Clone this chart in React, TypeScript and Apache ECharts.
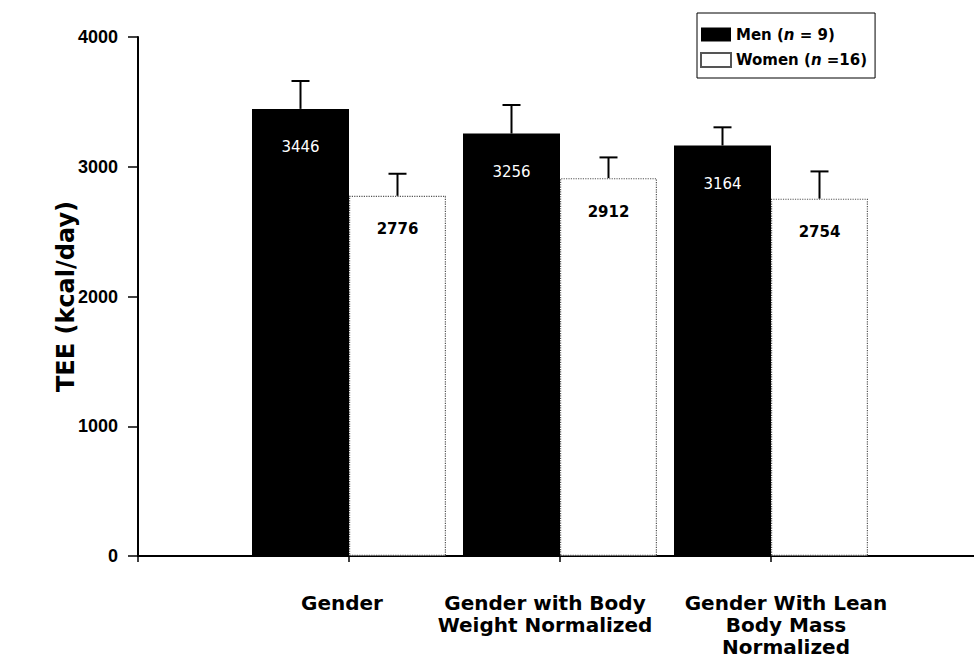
import React, { useEffect, useRef } from "react";
import * as echarts from "echarts";

const categories = [
  "",
  "Gender",
  "Gender with Body\nWeight Normalized",
  "Gender With Lean\nBody Mass\nNormalized",
  "",
];
const menValues = [3446, 3256, 3164];
const womenValues = [2776, 2912, 2754];
const menSE = [215, 220, 140];
const womenSE = [170, 160, 210];
const yTicks = [0, 1000, 2000, 3000, 4000];

const FONT = "DejaVu Sans";
const FONT2 = "Liberation Sans";
const BAR_W = 97;

export default function App() {
  const ref = useRef<HTMLDivElement>(null);
  useEffect(() => {
    if (!ref.current) return;
    const chart = echarts.init(ref.current, undefined, { renderer: "svg" });
    const pad = (arr: number[]) => [null, ...arr, null];
    const errData = (vals: number[], se: number[]) =>
      vals.map((v, i) => [i + 1, v, se[i]]);
    const makeErr = (offset: number) => (params: any, api: any) => {
      const x = api.value(0);
      const y = api.value(1);
      const se = api.value(2);
      const base = api.coord([x, y]);
      const top = api.coord([x, y + se]);
      const px = base[0] + offset;
      return {
        type: "group",
        children: [
          {
            type: "line",
            shape: { x1: px, y1: base[1], x2: px, y2: top[1] },
            style: { stroke: "#000", lineWidth: 2 },
          },
          {
            type: "line",
            shape: { x1: px - 9, y1: top[1], x2: px + 9, y2: top[1] },
            style: { stroke: "#000", lineWidth: 2 },
          },
        ],
      };
    };
    const catData = categories.map((c, i) => {
      const shifts: Record<number, number[]> = {
        1: [0, 14, 0, 0],
        2: [0, 30, 0, 0],
        3: [0, 0, 0, 30],
      };
      return shifts[i] ? { value: c, textStyle: { padding: shifts[i] } } : c;
    });
    chart.setOption({
      animation: false,
      backgroundColor: "#fff",
      grid: {
        left: 138,
        top: 37,
        width: 844,
        height: 519,
        outerBoundsMode: "none",
      },
      legend: {
        left: 697,
        top: 13,
        orient: "vertical",
        borderColor: "#000",
        borderWidth: 1,
        borderRadius: 0,
        padding: [14, 8, 10, 3],
        itemGap: 10,
        itemWidth: 30,
        itemHeight: 14,
        icon: "rect",
        data: ["Men", "Women"],
        formatter: (name: string) =>
          name === "Men" ? "Men ({i|n} = 9)" : "Women ({i|n} =16)",
        textStyle: {
          fontFamily: FONT,
          fontWeight: "bold",
          fontSize: 15,
          color: "#000",
          rich: {
            i: {
              fontFamily: FONT,
              fontWeight: "bold",
              fontStyle: "italic",
              fontSize: 15,
              color: "#000",
            },
          },
        },
      },
      xAxis: {
        type: "category",
        data: catData,
        boundaryGap: false,
        axisLine: { show: true, lineStyle: { color: "#000", width: 2 } },
        axisTick: {
          show: true,
          length: 6,
          lineStyle: { color: "#000", width: 1.5 },
        },
        axisLabel: {
          interval: 0,
          margin: 36,
          fontFamily: FONT,
          fontWeight: "bold",
          fontSize: 20,
          lineHeight: 22,
          color: "#000",
          verticalAlign: "top",
        },
        splitLine: { show: false },
      },
      yAxis: {
        type: "value",
        min: yTicks[0],
        max: yTicks[yTicks.length - 1],
        interval: 1000,
        name: "TEE (kcal/day)",
        nameLocation: "middle",
        nameGap: 60,
        nameMoveOverlap: false,
        nameTextStyle: {
          fontFamily: FONT,
          fontWeight: "bold",
          fontSize: 24,
          color: "#000",
        },
        axisLine: { show: true, lineStyle: { color: "#000", width: 2 } },
        axisTick: {
          show: true,
          length: 10,
          lineStyle: { color: "#000", width: 1.5 },
        },
        axisLabel: {
          margin: 20,
          fontFamily: FONT2,
          fontWeight: "bold",
          fontSize: 18,
          color: "#000",
          formatter: (v: number) => String(v),
        },
        splitLine: { show: false },
      },
      series: [
        {
          name: "Men",
          type: "bar",
          data: pad(menValues),
          barWidth: BAR_W,
          barGap: "0%",
          itemStyle: { color: "#000", borderColor: "#000", borderWidth: 0 },
          label: {
            show: true,
            position: "insideTop",
            distance: 31,
            color: "#fff",
            fontFamily: FONT,
            fontWeight: "normal",
            fontSize: 15,
          },
          z: 2,
        },
        {
          name: "Women",
          type: "bar",
          data: pad(womenValues),
          barWidth: BAR_W,
          barGap: "0%",
          itemStyle: {
            color: "#fff",
            borderColor: "#555",
            borderWidth: 1.2,
            borderType: "dotted",
          },
          label: {
            show: true,
            position: "insideTop",
            distance: 26,
            color: "#000",
            fontFamily: FONT,
            fontWeight: "bold",
            fontSize: 15,
          },
          z: 2,
        },
        {
          name: "MenErr",
          type: "custom",
          data: errData(menValues, menSE),
          renderItem: makeErr(-BAR_W / 2),
          z: 3,
          silent: true,
        },
        {
          name: "WomenErr",
          type: "custom",
          data: errData(womenValues, womenSE),
          renderItem: makeErr(BAR_W / 2),
          z: 3,
          silent: true,
        },
      ],
    });
    return () => chart.dispose();
  }, []);
  return (
    <div
      ref={ref}
      style={{ position: "absolute", left: 0, top: 0, width: 974, height: 661 }}
    />
  );
}
